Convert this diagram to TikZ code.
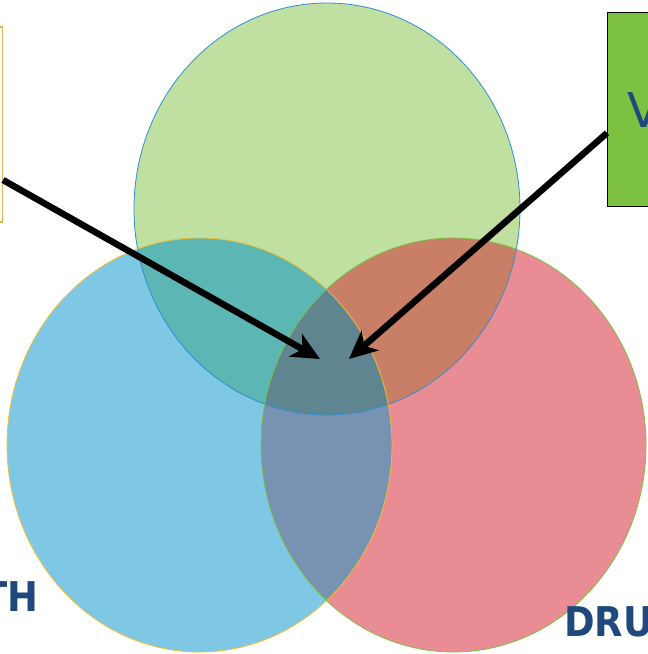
\documentclass[tikz,border=0pt]{standalone}
\usepackage{fontspec}
\setmainfont{DejaVu Sans}
\usetikzlibrary{arrows.meta}
\definecolor{cgreen}{HTML}{C0E0A1}
\definecolor{cblue}{HTML}{7EC8E6}
\definecolor{cred}{HTML}{E98C93}
\definecolor{cgb}{HTML}{5CB7B4}
\definecolor{cgr}{HTML}{C87F66}
\definecolor{cbr}{HTML}{7892B1}
\definecolor{cmid}{HTML}{5F8590}
\definecolor{lgreen}{HTML}{2E8FD0}
\definecolor{lblue}{HTML}{F0C030}
\definecolor{lred}{HTML}{7DC142}
\definecolor{txtblue}{HTML}{1F497D}
\definecolor{boxgreen}{HTML}{7DC142}
\definecolor{boxtan}{HTML}{E3B54E}
\tikzset{
  lbl/.style={font=\bfseries\fontsize{41}{45}\selectfont, text=txtblue, inner sep=0pt, xscale=0.9},
  arr/.style={line width=6.5pt, black, -{Stealth[length=28pt,width=26pt,inset=8pt]}},
}
\begin{document}
\begin{tikzpicture}[x=1pt,y=-1pt]
\clip (0,0) rectangle (648,654);
\fill[white] (0,0) rectangle (648,654);
% circles
\def\G{(327,209) ellipse [x radius=193pt, y radius=206pt]}
\def\B{(199.5,445) ellipse [x radius=192.5pt, y radius=207pt]}
\def\R{(453.5,445) ellipse [x radius=192.5pt, y radius=207pt]}
\fill[cgreen] \G;
\fill[cblue] \B;
\fill[cred] \R;
\begin{scope}\clip \G; \fill[cgb] \B; \fill[cgr] \R; \end{scope}
\begin{scope}\clip \B; \fill[cbr] \R; \end{scope}
\begin{scope}\clip \G; \clip \B; \fill[cmid] \R; \end{scope}
\draw[lgreen, line width=0.8pt] \G;
\draw[lblue, line width=0.8pt] \B;
\draw[lred, line width=0.8pt] \R;
% boxes
\node[draw=boxtan, line width=1.2pt, fill=white, minimum width=60pt, minimum height=195pt, inner sep=0pt, anchor=east] (lbox) at (3,124.5) {};
\node[draw=black, line width=1pt, fill=boxgreen, minimum width=100pt, minimum height=194pt, inner sep=0pt, anchor=west] (rbox) at (607,109) {};
\node[anchor=west, inner sep=0pt, text=txtblue, font=\fontsize{48}{52}\selectfont] (vtxt) at (627,110) {V};
% labels
\node[lbl, anchor=east] (th) at (39,597) {TH};
\node[lbl, anchor=west] (dru) at (564,622) {DRU};
% arrows
\coordinate (t1) at (320,359);
\coordinate (t2) at (349,359);
\draw[arr] (lbox.east |- 0,180) -- (t1);
\draw[arr] (rbox.west |- 0,133) -- (t2);
\end{tikzpicture}
\end{document}
